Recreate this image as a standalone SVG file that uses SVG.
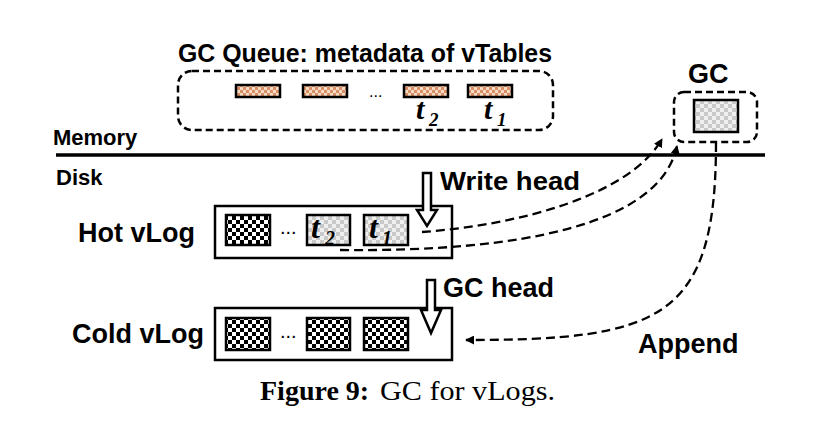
<svg xmlns="http://www.w3.org/2000/svg" width="840" height="442" viewBox="0 0 840 442">
<style>
.lbl{font-family:"Liberation Sans",Arial,sans-serif;font-weight:bold;fill:#000}
.tv{font-family:"Liberation Serif","Times New Roman",serif;font-weight:bold;font-style:italic;fill:#000}
.dots{font-family:"Liberation Sans",Arial,sans-serif;fill:#000}
.blk{stroke:#000;stroke-width:2.5}
.dash{fill:none;stroke:#000;stroke-width:2.3;stroke-dasharray:9 5}
.dbox{fill:none;stroke:#000;stroke-width:2.5;stroke-dasharray:7 4}
.solid{fill:#fff;stroke:#000;stroke-width:2.5}
</style>
<defs>
<pattern id="orange" width="6" height="6" patternUnits="userSpaceOnUse">
<rect width="6" height="6" fill="#f6dcc6"/><rect width="3" height="3" fill="#d98f63"/><rect x="3" y="3" width="3" height="3" fill="#d98f63"/>
</pattern>
<pattern id="dark" width="8" height="8" patternUnits="userSpaceOnUse">
<rect width="8" height="8" fill="#fff"/><rect width="4" height="4" fill="#000"/><rect x="4" y="4" width="4" height="4" fill="#000"/>
</pattern>
<pattern id="light" width="8" height="8" patternUnits="userSpaceOnUse">
<rect width="8" height="8" fill="#efefef"/><rect width="4" height="4" fill="#c9c9c9"/><rect x="4" y="4" width="4" height="4" fill="#c9c9c9"/>
</pattern>
<marker id="ah" viewBox="0 0 10 10" refX="9" refY="5" markerWidth="9" markerHeight="9" markerUnits="userSpaceOnUse" orient="auto">
<path d="M0,0 L10,5 L0,10 Z" fill="#000"/>
</marker>
</defs>
<rect width="840" height="442" fill="#fff"/>

<g id="memory-disk">
<line x1="56" y1="155" x2="765" y2="155" stroke="#000" stroke-width="3.5"/>
<text class="lbl" x="53" y="145" font-size="22">Memory</text>
<text class="lbl" x="56" y="185" font-size="22">Disk</text>
</g>

<g id="gc-queue">
<text class="lbl" x="178" y="62" font-size="25" textLength="374" lengthAdjust="spacingAndGlyphs">GC Queue: metadata of vTables</text>
<rect class="dbox" x="178" y="71" width="375" height="59" rx="14"/>
<rect class="blk" x="236" y="85" width="44" height="12" fill="url(#orange)"/>
<rect class="blk" x="303" y="85" width="44" height="12" fill="url(#orange)"/>
<text class="dots" x="369" y="97" font-size="16">...</text>
<rect class="blk" x="404" y="85" width="44" height="12" fill="url(#orange)"/>
<rect class="blk" x="468" y="85" width="44" height="12" fill="url(#orange)"/>
<text class="tv" x="416" y="119" font-size="30">t</text>
<text class="tv" x="429" y="126" font-size="19">2</text>
<text class="tv" x="484" y="119" font-size="30">t</text>
<text class="tv" x="497" y="126" font-size="19">1</text>
</g>

<g id="gc">
<text class="lbl" x="688" y="83" font-size="27">GC</text>
<rect class="dbox" x="674" y="92" width="83" height="50" rx="10"/>
<rect class="blk" x="694" y="100" width="44" height="32" fill="url(#light)"/>
</g>

<g id="hot-vlog">
<text class="lbl" x="78" y="242" font-size="27">Hot vLog</text>
<rect x="215" y="206" width="237" height="52" fill="#fff" stroke="#000" stroke-width="2.5"/>
<rect class="blk" x="226" y="215" width="44" height="30" fill="url(#dark)"/>
<text class="dots" x="280" y="234" font-size="20">...</text>
<rect class="blk" x="307" y="215" width="43" height="30" fill="url(#light)"/>
<text class="tv" x="311" y="238" font-size="32">t</text>
<text class="tv" x="325" y="245" font-size="20">2</text>
<rect class="blk" x="364" y="215" width="44" height="30" fill="url(#light)"/>
<text class="tv" x="369" y="238" font-size="32">t</text>
<text class="tv" x="382" y="245" font-size="20">1</text>
</g>

<g id="write-head">
<polygon class="solid" stroke-width="2" points="423,173 431,173 431,210 437,210 427,226 417,210 423,210"/>
<text class="lbl" x="440" y="190" font-size="26" textLength="140" lengthAdjust="spacingAndGlyphs">Write head</text>
</g>

<g id="cold-vlog">
<text class="lbl" x="72" y="343" font-size="27">Cold vLog</text>
<rect x="215" y="308" width="237" height="52" fill="#fff" stroke="#000" stroke-width="2.5"/>
<rect class="blk" x="226" y="318" width="44" height="32" fill="url(#dark)"/>
<text class="dots" x="280" y="338" font-size="20">...</text>
<rect class="blk" x="307" y="318" width="43" height="32" fill="url(#dark)"/>
<rect class="blk" x="364" y="318" width="44" height="32" fill="url(#dark)"/>
</g>

<g id="gc-head">
<polygon class="solid" stroke-width="2" points="427,280 435,280 435,310 441,310 431,333 421,310 427,310"/>
<text class="lbl" x="443" y="297" font-size="27">GC head</text>
</g>

<g id="connectors">
<path class="dash" d="M422,232 C520,225 630,195 662,139" marker-end="url(#ah)"/>
<path class="dash" d="M340,250 C520,252 660,225 677,146" marker-end="url(#ah)"/>
<path class="dash" d="M716,143 C716,320 660,340 466,340" marker-end="url(#ah)"/>
</g>

<g id="append-label">
<text class="lbl" x="638" y="353" font-size="27">Append</text>
</g>

<g id="caption">
<text x="260" y="400" font-family="'Liberation Serif','Times New Roman',serif" font-weight="bold" font-size="28">Figure 9:</text>
<text x="380" y="400" font-family="'Liberation Serif','Times New Roman',serif" font-size="28" textLength="175" lengthAdjust="spacingAndGlyphs">GC for vLogs.</text>
</g>
</svg>
